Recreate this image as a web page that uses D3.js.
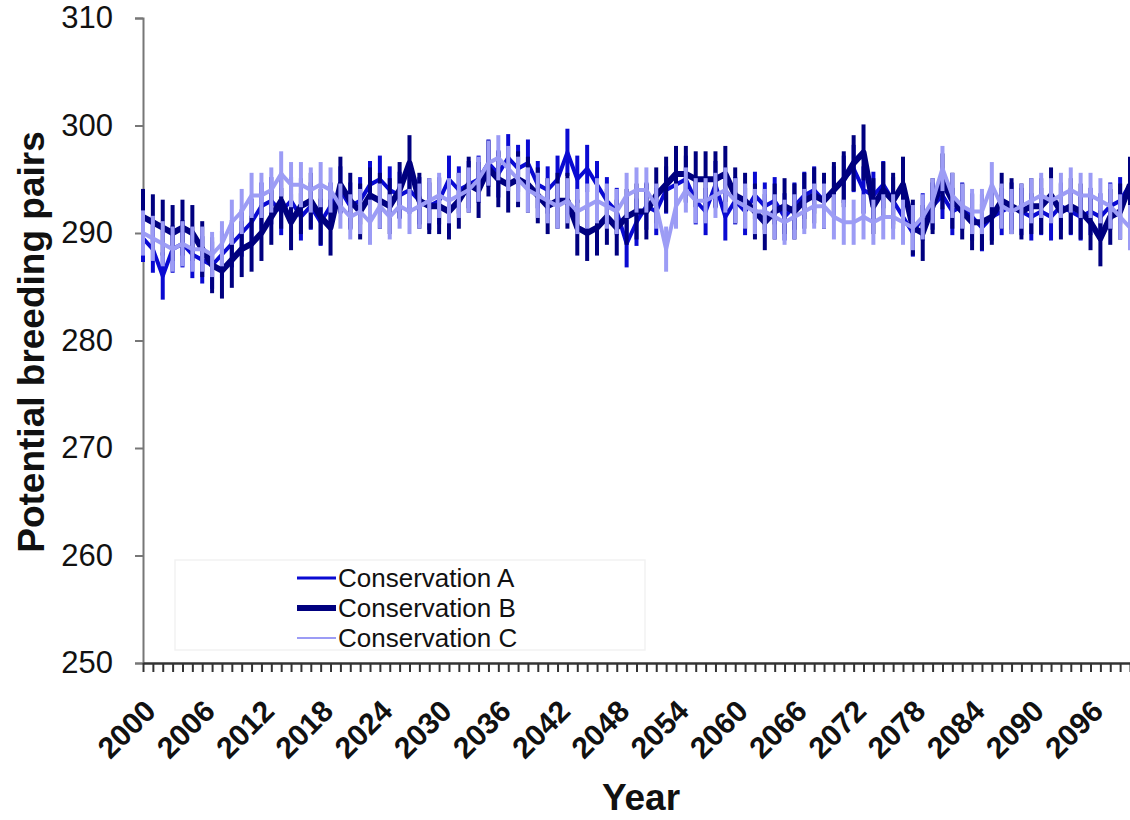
<!DOCTYPE html>
<html>
<head>
<meta charset="utf-8">
<script src="https://cdn.jsdelivr.net/npm/d3@7"></script>
<style>
  body { margin: 0; background: #fff; }
  svg { display: block; font-family: "Liberation Sans", Arial, sans-serif; }
</style>
</head>
<body>
<svg id="chart" width="1130" height="820"></svg>
<script>
// years on the category axis
const years = d3.range(2000, 2101)

// potential breeding pairs, one value per year
const consA = [
  289.5, 288.5, 286.0, 288.5, 289.0, 288.0, 287.5, 287.0, 288.0, 289.0,
  290.0, 291.0, 292.5, 293.0, 292.0, 293.0, 291.5, 292.5, 291.0, 292.5,
  294.0, 292.5, 293.0, 294.5, 295.0, 294.0, 293.5, 294.0, 293.0, 292.5,
  293.0, 295.0, 294.0, 294.5, 295.0, 296.5, 295.5, 297.0, 296.0, 296.5,
  294.5, 294.0, 295.0, 297.5, 295.0, 296.0, 294.5, 293.0, 292.0, 289.0,
  291.0, 292.5, 292.0, 294.0, 294.5, 295.0, 293.0, 292.0, 294.5, 291.5,
  293.0, 292.0, 293.5, 292.5, 293.0, 291.5, 292.5, 293.5, 294.0, 293.0,
  294.0, 295.0, 296.0, 294.0, 293.5, 294.5, 293.0, 291.5, 290.0, 291.5,
  292.5, 293.5, 292.0, 292.5, 291.5, 290.5, 291.5, 292.0, 292.5, 292.0,
  291.5, 292.0, 291.5, 292.5, 292.0, 291.5, 292.0, 291.5, 292.5, 293.0,
  294.5
]
const consB = [
  291.5, 291.0, 290.5, 290.0, 290.5, 290.0, 288.5, 287.0, 286.5, 287.5,
  288.5, 289.0, 290.0, 291.5, 293.0, 291.0, 292.5, 293.0, 291.5, 290.5,
  294.5, 293.0, 292.0, 293.5, 293.0, 292.5, 294.0, 296.5, 293.0, 292.5,
  292.5, 292.0, 293.0, 294.5, 294.0, 296.0, 295.0, 294.5, 295.0, 294.5,
  293.5, 292.5, 293.0, 293.0, 290.5, 290.0, 290.5, 291.5, 290.5, 291.5,
  292.0, 292.0, 293.5, 294.5, 295.5, 295.5, 295.0, 295.0, 295.0, 295.5,
  293.5, 293.0, 292.0, 291.0, 292.0, 292.5, 292.0, 293.0, 293.5, 293.0,
  294.0, 295.0, 296.5, 297.5, 292.5, 294.0, 293.0, 294.5, 290.5, 290.0,
  292.5, 294.8, 293.0, 292.0, 291.0, 291.0, 291.5, 293.0, 292.5, 292.0,
  292.5, 292.5, 293.5, 292.0, 292.5, 292.0, 291.0, 289.5, 291.5, 292.0,
  294.5
]
const consC = [
  290.0, 289.5, 289.0, 288.5, 289.0, 288.5, 288.5, 288.0, 289.0, 291.0,
  292.0, 293.5, 293.5, 294.0, 295.5, 294.5, 294.5, 294.0, 294.5, 294.0,
  292.5, 291.5, 292.0, 291.0, 292.5, 291.5, 292.5, 292.0, 292.5, 293.0,
  293.5, 293.0, 293.5, 294.0, 295.0, 296.5, 297.0, 296.0, 295.0, 294.0,
  293.5, 293.0, 292.5, 293.0, 292.0, 292.5, 293.0, 292.5, 292.0, 293.5,
  294.0, 294.0, 292.5, 288.5, 292.5, 294.0, 293.0, 293.0, 293.5, 294.0,
  293.0, 292.5, 292.0, 292.0, 291.5, 291.0, 291.5, 292.0, 292.5, 292.5,
  291.5, 291.0, 291.0, 291.5, 291.0, 291.5, 291.5, 291.0, 290.5, 291.5,
  293.0, 296.0, 293.5, 292.5, 292.0, 292.0, 294.5, 292.5, 292.0, 292.5,
  293.0, 293.5, 293.0, 293.5, 294.0, 293.5, 293.5, 293.0, 292.5, 291.5,
  290.5
]
// typical half-length of the error bars per series
const errHalf = [2.2, 2.6, 2.1]

const seriesNames = ['Conservation A', 'Conservation B', 'Conservation C']
const seriesValues = [consA, consB, consC]
const seriesColors = ['#0a0ad2', '#00007f', '#9c9cf5']
const lineWidths = [4, 6, 4]
const legendWidths = [3, 6, 2]

const yTicks = [250, 260, 270, 280, 290, 300, 310]
const xLabelYears = d3.range(2000, 2100, 6)

const svg = d3.select('#chart')
const margin = {left: 143, right: 1130, top: 18, bottom: 663}

const x = d3.scaleLinear().domain([2000, 2100]).range([margin.left, margin.right])
const y = d3.scaleLinear().domain([250, 310]).range([margin.bottom, margin.top])

// y axis
const yAxis = svg.append('g')
    .attr('transform', 'translate(' + margin.left + ',0)')
    .call(d3.axisLeft(y).tickValues(yTicks).tickSize(8).tickPadding(22).tickFormat(d3.format('d')))
yAxis.select('.domain').attr('stroke', '#777').attr('stroke-width', 2)
yAxis.selectAll('.tick line').attr('stroke', '#777').attr('stroke-width', 2)
yAxis.selectAll('.tick text')
    .attr('font-size', 31)
    .attr('fill', '#111')
    .style('font-family', '"Liberation Sans", Arial, sans-serif')

// x axis, one tick per year, label every 6 years
const xAxis = svg.append('g')
    .attr('transform', 'translate(0,' + margin.bottom + ')')
    .call(d3.axisBottom(x).tickValues(years).tickSize(9).tickSizeOuter(0)
        .tickFormat(d => xLabelYears.includes(d) ? String(d) : ''))
xAxis.select('.domain').attr('stroke', '#333').attr('stroke-width', 2.5)
xAxis.selectAll('.tick line').attr('stroke', '#333').attr('stroke-width', 2)
xAxis.selectAll('.tick text')
    .attr('font-size', 30)
    .attr('font-weight', 'bold')
    .attr('fill', '#111')
    .style('font-family', '"Liberation Sans", Arial, sans-serif')
    .attr('text-anchor', 'end')
    .attr('dy', 0)
    .attr('y', 0)
    .attr('transform', 'translate(14,50) rotate(-45)')

// axis titles
svg.append('text')
    .attr('transform', 'translate(44,342) rotate(-90)')
    .attr('text-anchor', 'middle')
    .attr('font-size', 37)
    .attr('font-weight', 'bold')
    .attr('fill', '#111')
    .text('Potential breeding pairs')

svg.append('text')
    .attr('x', 641)
    .attr('y', 810)
    .attr('text-anchor', 'middle')
    .attr('font-size', 37)
    .attr('font-weight', 'bold')
    .attr('fill', '#111')
    .text('Year')

// series: error bars then line
const plot = svg.append('g')
const line = d3.line()
    .x((d, i) => x(years[i]))
    .y(d => y(d))

seriesValues.forEach((vals, s) => {
    const g = plot.append('g').attr('class', 'series-' + s)
    g.selectAll('line.err')
        .data(vals)
        .enter()
        .append('line')
        .attr('class', 'err')
        .attr('x1', (d, i) => x(years[i]))
        .attr('x2', (d, i) => x(years[i]))
        .attr('y1', d => y(d - errHalf[s]))
        .attr('y2', d => y(d + errHalf[s]))
        .attr('stroke', seriesColors[s])
        .attr('stroke-width', 4)
    g.append('path')
        .datum(vals)
        .attr('d', line)
        .attr('fill', 'none')
        .attr('stroke', seriesColors[s])
        .attr('stroke-width', lineWidths[s])
        .attr('stroke-linejoin', 'round')
})

// legend
const legend = svg.append('g')
legend.append('rect')
    .attr('x', 175).attr('y', 560)
    .attr('width', 470).attr('height', 90)
    .attr('fill', '#fff')
    .attr('stroke', '#f2f2f2')
    .attr('stroke-width', 1.5)

seriesNames.forEach((name, s) => {
    const ly = 578 + s * 30
    legend.append('line')
        .attr('x1', 297).attr('x2', 336)
        .attr('y1', ly).attr('y2', ly)
        .attr('stroke', seriesColors[s])
        .attr('stroke-width', legendWidths[s])
    legend.append('text')
        .attr('x', 338)
        .attr('y', ly)
        .attr('dy', '0.36em')
        .attr('font-size', 26)
        .attr('fill', '#111')
        .text(name)
})
</script>
</body>
</html>
